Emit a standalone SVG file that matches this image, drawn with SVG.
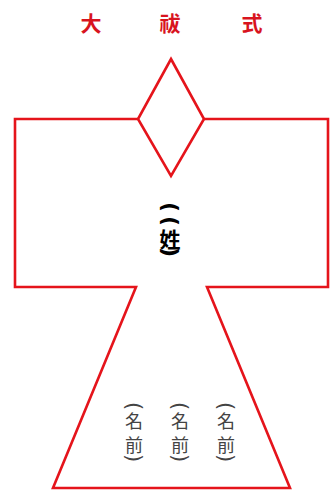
<svg xmlns="http://www.w3.org/2000/svg" width="332" height="490" viewBox="0 0 332 490">
<style>
.ln{fill:none;stroke:#e5141b;stroke-width:2.6;stroke-linejoin:miter}
.t{font-family:"Noto Sans CJK JP",sans-serif;font-weight:700;font-size:21px;fill:#d8141e;text-anchor:middle;dominant-baseline:central}
.s{font-family:"Noto Sans CJK JP",sans-serif;font-weight:700;font-size:21px;fill:#000;text-anchor:middle;dominant-baseline:central}
.sp{font-family:"DejaVu Sans",sans-serif;font-weight:700;font-size:22px;fill:#000;text-anchor:middle;dominant-baseline:central}
.n{font-family:"Noto Sans CJK JP",sans-serif;font-weight:400;font-size:18px;fill:#444;text-anchor:middle;dominant-baseline:central}
.np{font-family:"DejaVu Sans",sans-serif;font-weight:400;font-size:21px;fill:#444;text-anchor:middle;dominant-baseline:central}
</style>
<rect width="332" height="490" fill="#fff"/>
<g id="title">
<text class="t" x="91" y="22">大</text>
<text class="t" x="170" y="22">祓</text>
<text class="t" x="252" y="22">式</text>
</g>
<g id="body">
<path class="ln" d="M138,119 L15,119 L15,287 L136,287 L53,488 L290,488 L207,287 L328,287 L328,119 L204,119"/>
<path class="ln" d="M171,59 L204,119 L171,176 L138,119 Z"/>
</g>
<g id="surname">
<g transform="translate(170,207) rotate(90)"><text class="sp">(</text></g>
<g transform="translate(170,221) rotate(90)"><text class="sp">(</text></g>
<text class="s" x="170" y="238">姓</text>
<g transform="translate(170,252) rotate(90)"><text class="sp">)</text></g>
</g>
<g id="names">
<g transform="translate(134,406) rotate(90)"><text class="np">(</text></g>
<text class="n" x="134" y="420">名</text>
<text class="n" x="134" y="444">前</text>
<g transform="translate(134,458) rotate(90)"><text class="np">)</text></g>
<g transform="translate(180,406) rotate(90)"><text class="np">(</text></g>
<text class="n" x="180" y="420">名</text>
<text class="n" x="180" y="444">前</text>
<g transform="translate(180,458) rotate(90)"><text class="np">)</text></g>
<g transform="translate(226,406) rotate(90)"><text class="np">(</text></g>
<text class="n" x="226" y="420">名</text>
<text class="n" x="226" y="444">前</text>
<g transform="translate(226,458) rotate(90)"><text class="np">)</text></g>
</g>
</svg>
